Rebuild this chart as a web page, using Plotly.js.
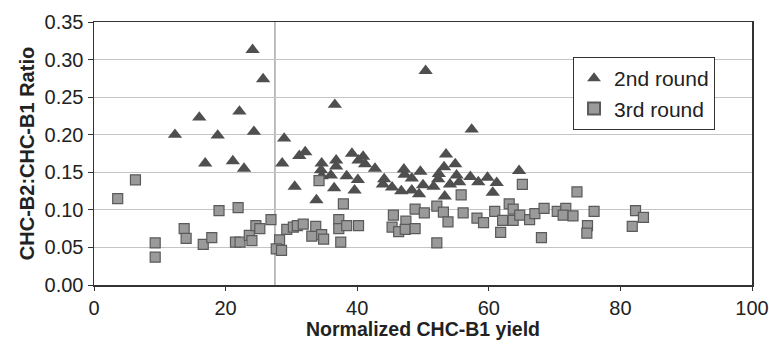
<!DOCTYPE html>
<html>
<head>
<meta charset="utf-8">
<script src="https://cdn.plot.ly/plotly-3.0.1.min.js"></script>
<style>html,body{margin:0;padding:0;background:#fff;}#chart{width:769px;height:345px;}</style>
</head>
<body>
<div id="chart"></div>
<script>
// 2nd round (triangles)
const round2X = [12.3,16.0,16.9,18.8,21.1,22.1,22.8,24.1,24.3,25.7,28.6,28.9,30.5,31.2,32.1,33.8,34.6,34.5,34.6,36.0,36.6,36.8,36.8,36.5,38.4,39.2,40.2,40.9,41.2,40.1,39.6,42.7,44.1,43.9,45.3,46.7,47.1,47.2,48.3,48.3,49.4,49.6,50.0,50.4,51.6,52.4,52.3,53.2,53.5,53.3,54.1,54.9,55.1,55.5,57.2,57.4,58.4,59.8,60.6,61.2,64.6];
const round2Y = [0.200,0.223,0.162,0.199,0.165,0.231,0.155,0.313,0.204,0.274,0.162,0.195,0.131,0.172,0.177,0.113,0.162,0.153,0.145,0.146,0.240,0.166,0.158,0.129,0.145,0.175,0.166,0.171,0.161,0.140,0.126,0.155,0.141,0.134,0.130,0.125,0.154,0.147,0.142,0.126,0.121,0.151,0.133,0.285,0.131,0.148,0.141,0.157,0.174,0.118,0.134,0.161,0.146,0.137,0.144,0.207,0.137,0.143,0.123,0.136,0.152];
// 3rd round (squares)
const round3X = [3.6,6.3,9.3,9.3,13.7,14.0,16.6,17.9,19.0,21.9,21.5,22.2,23.6,24.0,24.6,25.2,26.9,28.2,27.7,28.5,29.3,30.3,30.9,31.8,33.1,33.7,34.6,34.9,34.2,37.9,37.2,37.2,38.4,37.5,40.2,45.5,45.3,46.3,47.4,47.3,48.8,48.8,50.2,52.1,52.1,53.1,53.8,55.8,56.1,58.2,59.2,60.9,62.1,61.8,63.1,63.7,63.7,64.7,65.1,66.2,67.0,68.4,68.0,70.4,71.7,71.3,72.8,73.4,75.0,74.9,76.0,82.3,83.5,81.8];
const round3Y = [0.115,0.140,0.056,0.037,0.075,0.062,0.054,0.063,0.099,0.103,0.057,0.057,0.066,0.059,0.079,0.075,0.087,0.060,0.048,0.046,0.074,0.077,0.079,0.081,0.065,0.078,0.067,0.061,0.139,0.108,0.087,0.075,0.079,0.057,0.079,0.093,0.077,0.071,0.085,0.074,0.101,0.075,0.096,0.056,0.105,0.097,0.084,0.120,0.096,0.089,0.083,0.098,0.086,0.070,0.108,0.101,0.086,0.093,0.134,0.087,0.095,0.102,0.063,0.098,0.102,0.093,0.092,0.124,0.079,0.069,0.098,0.099,0.090,0.078];
const seriesNames = ['2nd round','3rd round'];
const xTicks = [0,20,40,60,80,100];
const yTicks = [0,0.05,0.10,0.15,0.20,0.25,0.30,0.35];
const thresholdX = 27.5;

const traces = [
  {x: round2X, y: round2Y, name: seriesNames[0], type: 'scatter', mode: 'markers',
   marker: {symbol: 'triangle-up', size: 12.5, color: '#4f4f4f', line: {width: 0}}},
  {x: round3X, y: round3Y, name: seriesNames[1], type: 'scatter', mode: 'markers',
   marker: {symbol: 'square', size: 10, color: '#9a9a9a', line: {width: 1.2, color: '#5a5a5a'}}}
];

const layout = {
  width: 769, height: 345,
  margin: {l: 94, r: 17, t: 22, b: 60},
  paper_bgcolor: '#fff', plot_bgcolor: '#fff',
  font: {family: 'Liberation Sans, Arial, sans-serif', color: '#222'},
  showlegend: true,
  legend: {x: 0.728, y: 0.867, xanchor: 'left', yanchor: 'top',
           bgcolor: '#fff', bordercolor: '#333', borderwidth: 1,
           font: {size: 21, color: '#222'}, itemsizing: 'constant',
           tracegroupgap: 0},
  xaxis: {range: [0, 100], tickvals: xTicks, ticks: 'outside', ticklen: 4, tickcolor: '#333',
          showline: true, linecolor: '#333', linewidth: 1.5, mirror: true,
          showgrid: false, zeroline: false, tickfont: {size: 20},
          title: {text: '<b>Normalized CHC-B1 yield</b>', font: {size: 19.5}, standoff: 3}},
  yaxis: {range: [0, 0.35], tickvals: yTicks, tickformat: '.2f', ticks: 'outside', ticklen: 5, tickcolor: '#333',
          showline: true, linecolor: '#333', linewidth: 1.5, mirror: true,
          showgrid: true, gridcolor: '#c4c4c4', gridwidth: 1.2, zeroline: false, tickfont: {size: 20},
          title: {text: '<b>CHC-B2:CHC-B1 Ratio</b>', font: {size: 20}, standoff: 4}},
  shapes: [{type: 'line', xref: 'x', yref: 'paper', x0: thresholdX, x1: thresholdX, y0: 0, y1: 1,
            line: {color: '#a8a8a8', width: 1.5}, layer: 'below'}]
};

Plotly.newPlot('chart', traces, layout, {displayModeBar: false, staticPlot: true});
</script>
</body>
</html>
